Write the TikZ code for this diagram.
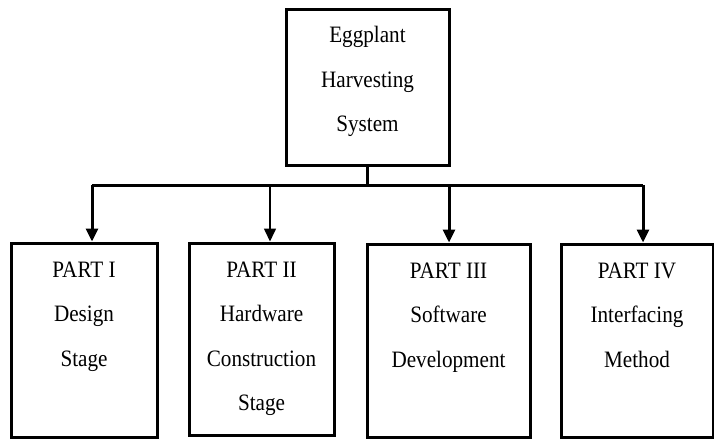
\documentclass[tikz,border=0pt]{standalone}
\usepackage{fontspec}
\setmainfont[FakeStretch=0.9]{Liberation Serif}
\usepackage{tikz}
\usetikzlibrary{arrows.meta}

\tikzset{
  blockbox/.style={draw, line width=3pt, rectangle, inner sep=0pt},
  blocktext/.style={anchor=north, align=center, inner sep=0pt,
    font=\fontsize{23.5}{44.5}\selectfont},
  busline/.style={line width=3pt},
  feedarrow/.style={line width=3pt, -{Triangle[length=13pt,width=12pt]}}
}

\begin{document}
\begin{tikzpicture}[x=1pt,y=-1pt]
  \useasboundingbox (0,0) rectangle (714,439);
  % top block
  \node[blockbox, minimum width=163pt, minimum height=156pt] (sys) at (367.5,87) {};
  \node[blocktext] at ([yshift=-18.5pt]sys.north) {Eggplant\\Harvesting\\System};
  % the four parts
  \node[blockbox, minimum width=146pt, minimum height=194pt] (p1) at (84,340) {};
  \node[blockbox, minimum width=145pt, minimum height=192pt] (p2) at (261.5,339) {};
  \node[blockbox, minimum width=163pt, minimum height=193pt] (p3) at (448.5,340.5) {};
  \node[blockbox, minimum width=152pt, minimum height=193pt] (p4) at (637,340.5) {};
  \node[blocktext] at ([yshift=-20pt]p1.north) {PART I\\Design\\Stage};
  \node[blocktext] at ([yshift=-20pt]p2.north) {PART II\\Hardware\\Construction\\Stage};
  \node[blocktext] at ([yshift=-20pt]p3.north) {PART III\\Software\\Development};
  \node[blocktext] at ([yshift=-20pt]p4.north) {PART IV\\Interfacing\\Method};
  % bus
  \coordinate (b1) at (92,185);
  \coordinate (b2) at (270,185);
  \coordinate (b3) at (449,185);
  \coordinate (b4) at (643,185);
  \draw[busline] (sys.south) -- (sys.south |- b1);
  \draw[busline] (b1) -- (b4);
  \draw[feedarrow] (b1) -- (b1 |- p1.north);
  \draw[feedarrow, line width=1.6pt] (b2) -- (b2 |- p2.north);
  \draw[feedarrow] (b3) -- (b3 |- p3.north);
  \draw[feedarrow] (b4) -- (b4 |- p4.north);
\end{tikzpicture}
\end{document}
